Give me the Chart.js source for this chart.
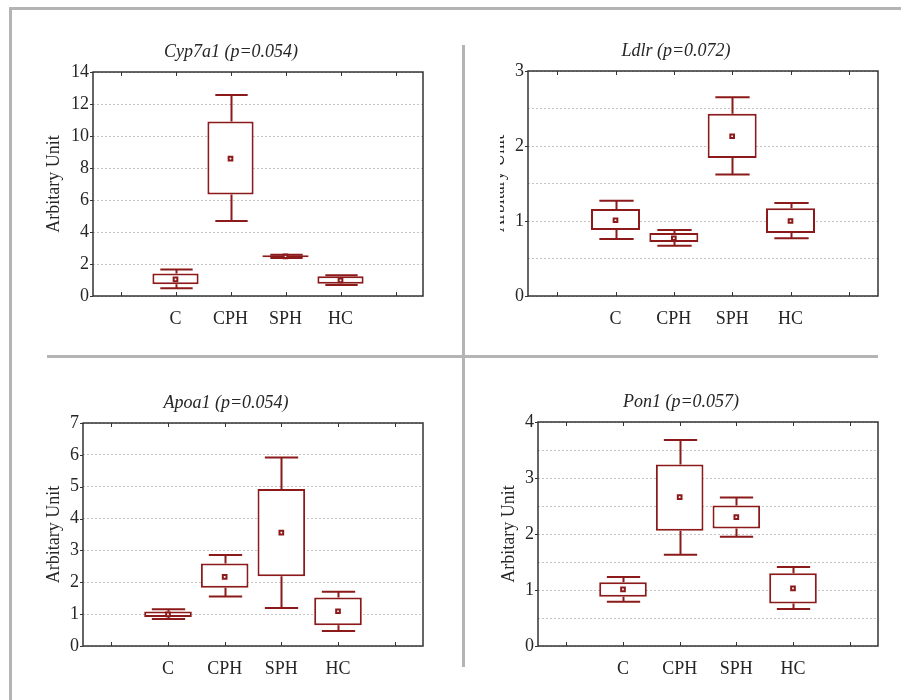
<!DOCTYPE html>
<html>
<head>
<meta charset="utf-8">
<script src="https://cdn.jsdelivr.net/npm/chart.js@4"></script>
<style>
  body { margin: 0; background: #fff; }
  #page { position: relative; width: 901px; height: 700px; overflow: hidden; background: #fff; }
  .rule { position: absolute; background: #b4b4b4; }
  .panel { position: absolute; }
  .clip { position: absolute; overflow: hidden; }
</style>
</head>
<body>
<div id="page">
  <div class="rule" style="left:10px;top:7px;width:891px;height:3px"></div>
  <div class="rule" style="left:9px;top:7px;width:3px;height:693px"></div>
  <div class="rule" style="left:462px;top:45px;width:3px;height:622px"></div>
  <div class="rule" style="left:47px;top:355px;width:831px;height:3px"></div>

  <canvas id="cyp" class="panel" width="396" height="296" style="left:33px;top:30px"></canvas>
  <div class="clip" style="left:500px;top:30px;width:384px;height:296px">
    <canvas id="ldlr" class="panel" width="416" height="296" style="left:-32px;top:0"></canvas>
  </div>
  <canvas id="apoa" class="panel" width="406" height="296" style="left:23px;top:380px"></canvas>
  <canvas id="pon" class="panel" width="406" height="296" style="left:478px;top:380px"></canvas>
</div>
<script>
/* group labels (outer two slots are empty, as in the original axis) */
const groups = ['', 'C', 'CPH', 'SPH', 'HC', ''];

/* Cyp7a1 */
const cypMin  = [null, 0.48, 4.68, 2.38, 0.69, null];
const cypQ1   = [null, 0.73, 6.34, 2.42, 0.77, null];
const cypQ3   = [null, 1.41, 10.9, 2.55, 1.23, null];
const cypMax  = [null, 1.66, 12.57, 2.58, 1.29, null];
const cypMean = [null, 1.04, 8.59, 2.48, 0.98, null];

/* Ldlr */
const ldlrMin  = [null, 0.76, 0.67, 1.62, 0.77, null];
const ldlrQ1   = [null, 0.88, 0.72, 1.84, 0.84, null];
const ldlrQ3   = [null, 1.16, 0.84, 2.43, 1.17, null];
const ldlrMax  = [null, 1.27, 0.88, 2.65, 1.24, null];
const ldlrMean = [null, 1.01, 0.77, 2.13, 1.0, null];

/* Apoa1 */
const apoaMin  = [null, 0.85, 1.55, 1.19, 0.47, null];
const apoaQ1   = [null, 0.91, 1.83, 2.19, 0.65, null];
const apoaQ3   = [null, 1.08, 2.59, 4.93, 1.52, null];
const apoaMax  = [null, 1.15, 2.86, 5.92, 1.7, null];
const apoaMean = [null, 0.99, 2.17, 3.56, 1.09, null];

/* Pon1 */
const ponMin  = [null, 0.79, 1.63, 1.95, 0.66, null];
const ponQ1   = [null, 0.88, 2.06, 2.1, 0.76, null];
const ponQ3   = [null, 1.14, 3.24, 2.51, 1.3, null];
const ponMax  = [null, 1.23, 3.68, 2.65, 1.41, null];
const ponMean = [null, 1.01, 2.66, 2.3, 1.03, null];

const RED = '#8c1a1a';
const INK = '#262626';
const FONT = "'Liberation Serif', 'DejaVu Serif', serif";

// whiskers + caps, drawn through the chart's own scales
const whiskerPlugin = {
  id: 'whiskers',
  afterDatasetsDraw(chart, args, opts) {
    const { ctx, scales: { x, y } } = chart;
    const bars = chart.getDatasetMeta(0).data;
    ctx.save();
    ctx.strokeStyle = RED;
    ctx.lineWidth = 2;
    opts.max.forEach((mx, i) => {
      if (mx == null) return;
      const cx = Math.round(x.getPixelForValue(i)) + 0.5;
      const cap = bars[i].width * 0.35;
      const yMax = y.getPixelForValue(mx);
      const yQ3 = y.getPixelForValue(opts.q3[i]);
      const yQ1 = y.getPixelForValue(opts.q1[i]);
      const yMin = y.getPixelForValue(opts.min[i]);
      ctx.beginPath();
      ctx.moveTo(cx, yMax); ctx.lineTo(cx, yQ3);
      ctx.moveTo(cx, yQ1); ctx.lineTo(cx, yMin);
      ctx.moveTo(cx - cap, yMax); ctx.lineTo(cx + cap, yMax);
      ctx.moveTo(cx - cap, yMin); ctx.lineTo(cx + cap, yMin);
      ctx.stroke();
    });
    ctx.restore();
  },
};

// plot frame with small tick marks
const framePlugin = {
  id: 'frame',
  afterDraw(chart) {
    const { ctx, chartArea: a, scales: { x, y } } = chart;
    ctx.save();
    ctx.strokeStyle = '#333';
    ctx.lineWidth = 1.5;
    ctx.strokeRect(a.left, a.top, a.right - a.left, a.bottom - a.top);
    ctx.lineWidth = 1;
    ctx.beginPath();
    groups.forEach((g, i) => {
      const px = Math.round(x.getPixelForValue(i)) + 0.5;
      ctx.moveTo(px, a.bottom); ctx.lineTo(px, a.bottom - 4);
      ctx.moveTo(px, a.top); ctx.lineTo(px, a.top + 4);
    });
    y.ticks.forEach(t => {
      if (t.value % 1 !== 0) return;
      const py = Math.round(y.getPixelForValue(t.value)) + 0.5;
      ctx.moveTo(a.left - 3, py); ctx.lineTo(a.left, py);
    });
    ctx.stroke();
    ctx.restore();
  },
};

function boxChart(id, title, yMax, step, stats, pads) {
  return new Chart(document.getElementById(id), {
    type: 'bar',
    data: {
      labels: groups,
      datasets: [
        {
          data: stats.q1.map((v, i) => (v == null ? null : [v, stats.q3[i]])),
          backgroundColor: '#fff',
          borderColor: RED,
          borderWidth: 2,
          borderSkipped: false,
          categoryPercentage: 1,
          barPercentage: 0.84,
          order: 2,
        },
        {
          type: 'line',
          data: stats.mean,
          showLine: false,
          pointStyle: 'rect',
          pointRadius: 2.6,
          pointBorderWidth: 2,
          pointBackgroundColor: '#fff',
          pointBorderColor: RED,
          order: 1,
        },
      ],
    },
    options: {
      responsive: false,
      animation: false,
      layout: { padding: 0 },
      plugins: {
        legend: { display: false },
        tooltip: { enabled: false },
        title: {
          display: true,
          text: title,
          color: INK,
          font: { family: FONT, size: 18, style: 'italic', weight: 'normal' },
          padding: { top: pads.titleTop, bottom: pads.titleBottom },
        },
        whiskers: stats,
      },
      scales: {
        x: {
          offset: true,
          grid: { display: false },
          border: { display: false },
          ticks: { color: INK, padding: 4, font: { family: FONT, size: 18 } },
          afterFit: s => { s.height = 30; },
        },
        y: {
          min: 0,
          max: yMax,
          grid: { color: '#c4c4c4', lineWidth: 1, drawTicks: false },
          border: { display: false, dash: [2, 2] },
          ticks: {
            stepSize: step,
            color: INK,
            padding: 4,
            font: { family: FONT, size: 18 },
            callback: v => (v % 1 === 0 ? v : ''),
          },
          title: {
            display: true,
            text: 'Arbitary Unit',
            color: INK,
            font: { family: FONT, size: 18 },
            padding: { top: pads.yTitle, bottom: 0 },
          },
          afterFit: s => { s.width = 60; },
        },
      },
    },
    plugins: [whiskerPlugin, framePlugin],
  });
}

boxChart('cyp', 'Cyp7a1 (p=0.054)', 14, 2,
  { min: cypMin, q1: cypQ1, q3: cypQ3, max: cypMax, mean: cypMean },
  { titleTop: 11.7, titleBottom: 8.7, yTitle: 10.7 });
boxChart('ldlr', 'Ldlr (p=0.072)', 3, 0.5,
  { min: ldlrMin, q1: ldlrQ1, q3: ldlrQ3, max: ldlrMax, mean: ldlrMean },
  { titleTop: 10.2, titleBottom: 9.2, yTitle: 20.2 });
boxChart('apoa', 'Apoa1 (p=0.054)', 7, 1,
  { min: apoaMin, q1: apoaQ1, q3: apoaQ3, max: apoaMax, mean: apoaMean },
  { titleTop: 12.5, titleBottom: 8.9, yTitle: 20.7 });
boxChart('pon', 'Pon1 (p=0.057)', 4, 0.5,
  { min: ponMin, q1: ponQ1, q3: ponQ3, max: ponMax, mean: ponMean },
  { titleTop: 11.5, titleBottom: 8.9, yTitle: 20.5 });
</script>
</body>
</html>
